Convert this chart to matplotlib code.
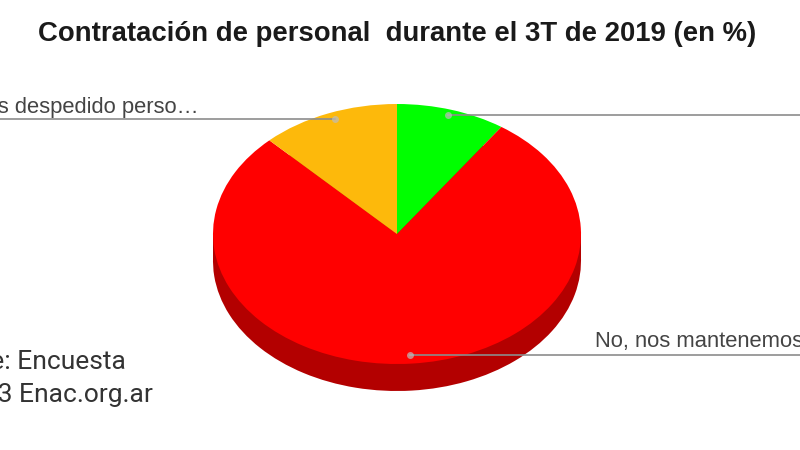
import matplotlib
matplotlib.use("Agg")
import matplotlib.pyplot as plt

plt.rcParams['font.family'] = ['Liberation Sans', 'DejaVu Sans']

# porcentajes (sentido horario desde arriba)
categorias = ["Si, hemos contratado", "No, nos mantenemos igual", "Si, hemos despedido personal"]
valores = [9.6, 78.2, 12.2]
colores = ["#00ff00", "#ff0000", "#fdb90b"]
colores_lado = ["#00b300", "#b30000", "#b38000"]

titulo = "Contratación de personal  durante el 3T de 2019 (en %)"
etiqueta_izq = "Sí, hemos despedido perso…"
etiqueta_der = "No, nos mantenemos igual"
fuente = ["Fuente: Encuesta", "2013 Enac.org.ar"]

W, H = 800, 450
fig = plt.figure(figsize=(W / 100, H / 100), dpi=100, facecolor="white")

# la torta: elipse de 184x130 px, con 27 px de espesor
rx, ry, grosor = 184, 130, 27
cx, cy = 397, 234
g = grosor / ry
ax = fig.add_axes([(cx - rx) / W, (H - (cy + ry + grosor)) / H, 2 * rx / W, (2 * ry + grosor) / H])

ax.pie(valores, colors=colores_lado, startangle=90, counterclock=False, center=(0, -g), radius=1)
ax.fill_between([-1, 1], [-g, -g], [0, 0], color=colores_lado[1], lw=0)
ax.pie(valores, colors=colores, startangle=90, counterclock=False, center=(0, 0), radius=1)
ax.set_aspect("auto")
ax.set_xlim(-1, 1)
ax.set_ylim(-1 - g, 1)

# capa de textos y lineas en pixeles
capa = fig.add_axes([0, 0, 1, 1], facecolor="none")
capa.set_xlim(0, W)
capa.set_ylim(H, 0)
capa.axis("off")

gris = "#8c8c8c"
capa.plot([0, 335], [119, 119], color=gris, lw=1.2)
capa.plot([448, 800], [115, 115], color=gris, lw=1.2)
capa.plot([410, 800], [355, 355], color=gris, lw=1.2)
capa.plot([335, 448, 410], [119, 115, 355], ls="none", marker="o", ms=5, mfc="#bdbdbd", mec="none", alpha=0.7)

capa.text(397, 34, titulo, ha="center", va="center", fontsize=19.8, fontweight="bold", color="#1a1a1a")
capa.text(199, 108, etiqueta_izq, ha="right", va="center", fontsize=15.8, color="#444444")
capa.text(595, 342, etiqueta_der, ha="left", va="center", fontsize=15.8, color="#444444")
capa.text(126, 362, fuente[0], ha="right", va="center", fontsize=19, color="#333333", family=["Roboto"])
capa.text(153, 395, fuente[1], ha="right", va="center", fontsize=19, color="#333333", family=["Roboto"])

fig.savefig("out.png", dpi=100)
